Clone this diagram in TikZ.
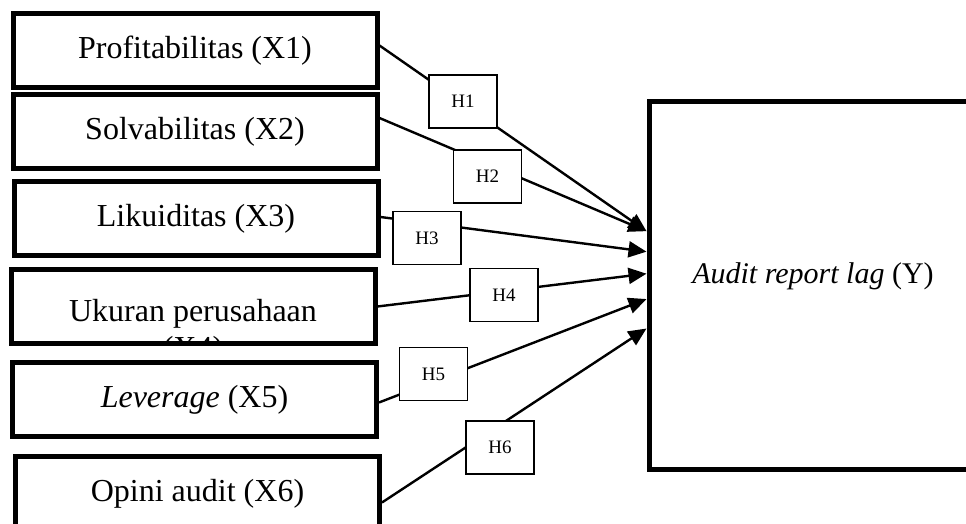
\documentclass[tikz,border=0pt]{standalone}
\usepackage{fontspec}
\setmainfont{Liberation Serif}
\usetikzlibrary{arrows.meta,calc}
\tikzset{
    varbox/.style={draw, line width=2.5pt, fill=white, minimum width=182pt, minimum height=37pt, inner sep=0pt, font=\fontsize{16}{19}\selectfont},
    hbox/.style={draw, line width=0.7pt, fill=white, minimum width=34pt, minimum height=26.5pt, inner sep=0pt, font=\fontsize{9.5}{11}\selectfont},
    ybox/.style={draw, line width=2.5pt, minimum width=164pt, minimum height=184pt, inner sep=0pt},
    link/.style={line width=1.2pt, -{Triangle[length=9pt,width=8pt]}}
}

\begin{document}
\begin{tikzpicture}[x=0.5pt, y=-0.5pt]
    \useasboundingbox (0,0) rectangle (966,524);
    \clip (0,0) rectangle (966,524);
    % variabel independen
    \node[varbox] (x1) at (195,50.5) {Profitabilitas (X1)};
    \node[varbox] (x2) at (195,132) {Solvabilitas (X2)};
    \node[varbox] (x3) at (196,219) {Likuiditas (X3)};
    \node[varbox] (x4) at (193,306.5) {};
    \begin{scope}
        \clip (x4.south west) rectangle (x4.north east);
        \node[anchor=base, font=\fontsize{16}{19}\selectfont] (x4a) at (193,322) {Ukuran perusahaan};
        \node[anchor=base, font=\fontsize{16}{19}\selectfont] (x4b) at (193,359) {(X4)};
    \end{scope}
    \node[varbox] (x5) at (194.5,399.5) {\textit{Leverage} (X5)};
    \node[varbox] (x6) at (197.5,493.5) {Opini audit (X6)};
    % variabel dependen
    \node[ybox] (Y) at (813,286) {};
    \node[font=\fontsize{15}{18}\selectfont] (ylab) at (813,276) {\textit{Audit report lag} (Y)};
    \coordinate (y1) at ($(Y.north west)!0.353!(Y.south west)$);
    \coordinate (y3) at ($(Y.north west)!0.408!(Y.south west)$);
    \coordinate (y4) at ($(Y.north west)!0.467!(Y.south west)$);
    \coordinate (y5) at ($(Y.north west)!0.535!(Y.south west)$);
    \coordinate (y6) at ($(Y.north west)!0.614!(Y.south west)$);
    % hubungan
    \draw[link] ([yshift=2.5pt]x1.east) -- (y1);
    \draw[link] ([yshift=7pt]x2.east) -- (y1);
    \draw[link] ([yshift=1pt]x3.east) -- (y3);
    \draw[link] (x4.east) -- (y4);
    \draw[link] ([yshift=-1.5pt]x5.east) -- (y5);
    \draw[link] ([yshift=-4.5pt]x6.east) -- (y6);
    % hipotesis
    \node[hbox] (h1) at (463,101.5) {H1};
    \node[hbox] (h2) at (487.5,176.5) {H2};
    \node[hbox] (h3) at (427,238) {H3};
    \node[hbox] (h4) at (504,295) {H4};
    \node[hbox] (h5) at (433.5,374) {H5};
    \node[hbox] (h6) at (500,447.5) {H6};
\end{tikzpicture}
\end{document}
